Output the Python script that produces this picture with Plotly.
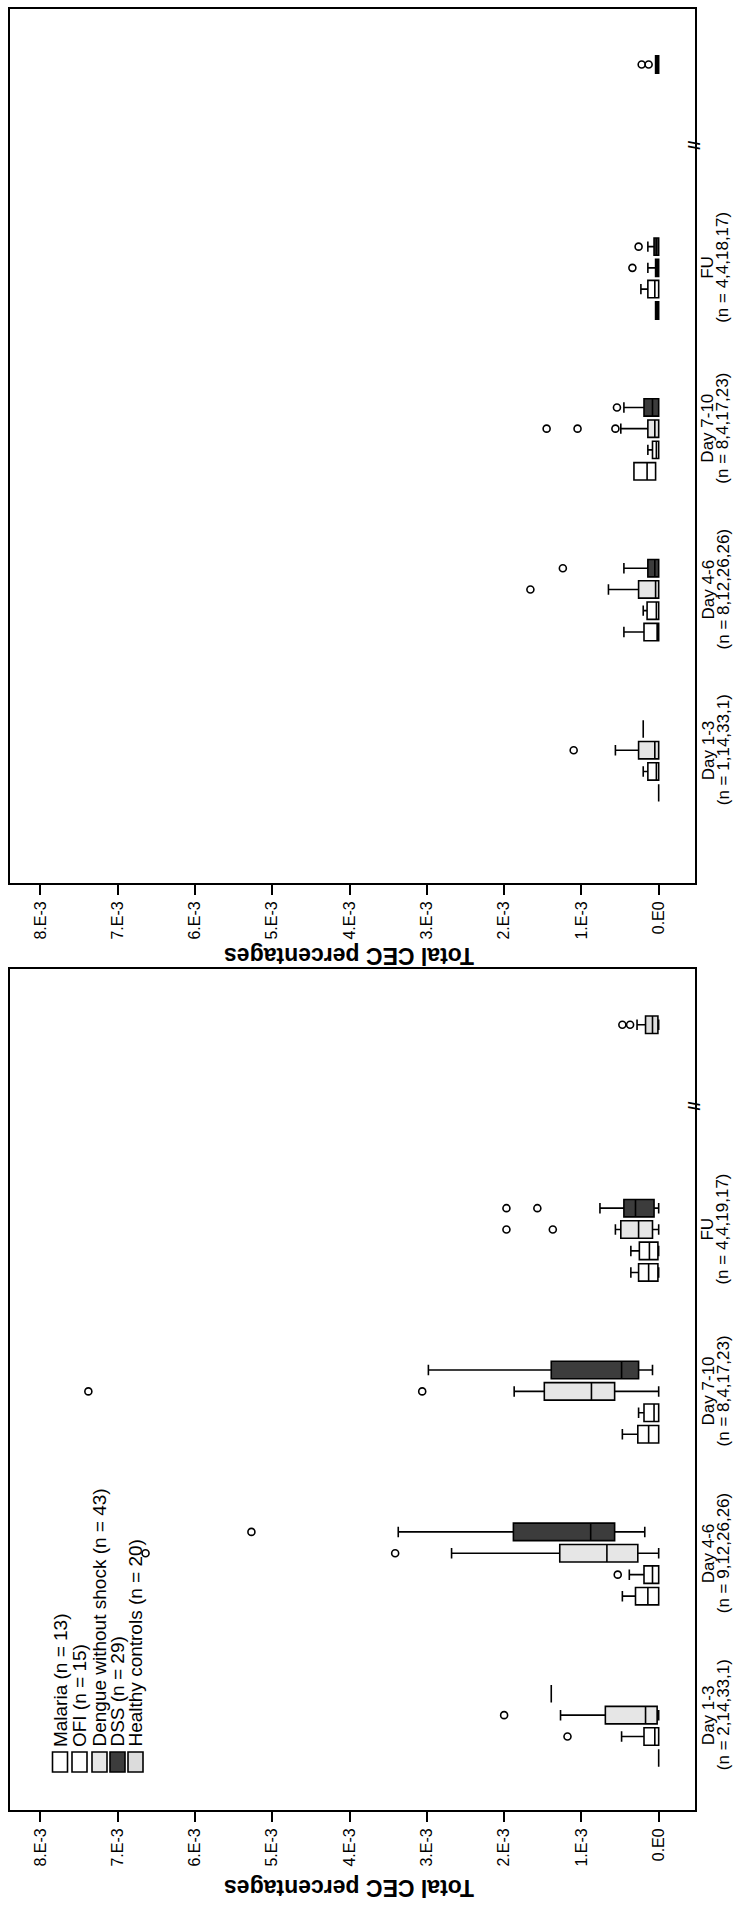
import plotly.graph_objects as go

# ---------------- data (values in units of 1E-3) ----------------
CATEGORIES = ["Day 1-3", "Day 4-6", "Day 7-10", "FU", "Healthy controls"]
SERIES = ["Malaria (n = 13)", "OFI (n = 15)", "Dengue without shock (n = 43)",
          "DSS (n = 29)", "Healthy controls (n = 20)"]
FILLS = ["#ffffff", "#ffffff", "#e6e6e6", "#3c3c3c", "#dcdcdc"]

VALUE_TICKS = [8, 7, 6, 5, 4, 3, 2, 1, 0]
VALUE_TICK_TEXT = ["8.E-3", "7.E-3", "6.E-3", "5.E-3", "4.E-3", "3.E-3", "2.E-3", "1.E-3", "0.E0"]
UNIT = 1e-3

TOP_N_LABELS = ["(n = 1,14,33,1)", "(n = 8,12,26,26)", "(n = 8,4,17,23)", "(n = 4,4,18,17)"]
BOTTOM_N_LABELS = ["(n = 2,14,33,1)", "(n = 9,12,26,26)", "(n = 8,4,17,23)", "(n = 4,4,19,17)"]

# rows: Malaria, OFI, Dengue w/o shock, DSS, Healthy controls ; cols: categories
TOP_Q1 = [[0.00, 0.00, 0.04, 0.00, None],
          [0.00, 0.00, 0.00, 0.00, None],
          [0.00, 0.00, 0.00, 0.00, None],
          [0.20, 0.00, 0.00, 0.00, None],
          [None, None, None, None, 0.00]]
TOP_MED = [[0.00, 0.02, 0.15, 0.02, None],
           [0.03, 0.03, 0.03, 0.05, None],
           [0.05, 0.04, 0.05, 0.02, None],
           [0.20, 0.05, 0.08, 0.03, None],
           [None, None, None, None, 0.02]]
TOP_Q3 = [[0.00, 0.19, 0.32, 0.04, None],
          [0.14, 0.15, 0.08, 0.14, None],
          [0.26, 0.26, 0.14, 0.04, None],
          [0.20, 0.14, 0.19, 0.06, None],
          [None, None, None, None, 0.04]]
TOP_LO = [[0.00, 0.00, 0.04, 0.00, None],
          [0.00, 0.00, 0.00, 0.00, None],
          [0.00, 0.00, 0.00, 0.00, None],
          [0.20, 0.00, 0.00, 0.00, None],
          [None, None, None, None, 0.00]]
TOP_HI = [[0.00, 0.45, 0.32, 0.04, None],
          [0.20, 0.20, 0.14, 0.23, None],
          [0.56, 0.65, 0.49, 0.14, None],
          [0.20, 0.45, 0.45, 0.14, None],
          [None, None, None, None, 0.04]]
# outliers: (series index, category index, value)
TOP_OUTLIERS = [(2, 0, 1.10), (2, 1, 1.66), (3, 1, 1.24),
                (2, 2, 0.56), (2, 2, 1.05), (2, 2, 1.45), (3, 2, 0.54),
                (2, 3, 0.34), (3, 3, 0.26), (4, 4, 0.13), (4, 4, 0.22)]

BOT_Q1 = [[0.00, 0.00, 0.00, 0.01, None],
          [0.00, 0.00, 0.00, 0.01, None],
          [0.02, 0.27, 0.57, 0.08, None],
          [1.39, 0.57, 0.26, 0.06, None],
          [None, None, None, None, 0.01]]
BOT_MED = [[0.00, 0.14, 0.13, 0.13, None],
           [0.05, 0.08, 0.06, 0.12, None],
           [0.17, 0.67, 0.87, 0.26, None],
           [1.39, 0.88, 0.48, 0.30, None],
           [None, None, None, None, 0.08]]
BOT_Q3 = [[0.00, 0.30, 0.27, 0.26, None],
          [0.19, 0.19, 0.19, 0.25, None],
          [0.69, 1.28, 1.48, 0.49, None],
          [1.39, 1.88, 1.39, 0.45, None],
          [None, None, None, None, 0.17]]
BOT_LO = [[0.00, 0.00, 0.00, 0.00, None],
          [0.00, 0.00, 0.00, 0.00, None],
          [0.00, 0.00, 0.00, 0.00, None],
          [1.39, 0.18, 0.08, 0.00, None],
          [None, None, None, None, 0.00]]
BOT_HI = [[0.00, 0.47, 0.47, 0.36, None],
          [0.48, 0.38, 0.26, 0.36, None],
          [1.27, 2.68, 1.87, 0.56, None],
          [1.39, 3.37, 2.98, 0.76, None],
          [None, None, None, None, 0.28]]
BOT_OUTLIERS = [(1, 0, 1.18), (2, 0, 2.00), (1, 1, 0.53), (2, 1, 3.41), (2, 1, 6.64),
                (3, 1, 5.27), (2, 2, 3.06), (2, 2, 7.38), (2, 3, 1.37), (2, 3, 1.97),
                (3, 3, 1.57), (3, 3, 1.97), (4, 4, 0.37), (4, 4, 0.47)]

# ---------------- style / layout constants ----------------
FONT = "Liberation Sans, Arial, sans-serif"
SLOT = [-0.265, -0.132, 0.0, 0.132, 0.265]
BOX_W = 0.108
W, H = 735, 1905
ML, MR, MT, MB = 10, 40, 7, 95
TOP_Y_RANGE = [-0.826, 4.61]
BOT_Y_RANGE = [-0.586, 4.61]
X_RANGE = [8.394 * UNIT, -0.47 * UNIT]


def px_x(X):
    return (X - ML) / (W - ML - MR)


def px_y(Y):
    return (H - MB - Y) / (H - MT - MB)


fig = go.Figure()


def add_panel(xa, ya, q1, med, q3, lo, hi, outliers):
    for s in range(len(SERIES)):
        ys, a, b, c, d, e = [], [], [], [], [], []
        for ci in range(len(CATEGORIES)):
            if q1[s][ci] is None:
                continue
            ys.append(ci + SLOT[s])
            a.append(q1[s][ci] * UNIT)
            b.append(med[s][ci] * UNIT)
            c.append(q3[s][ci] * UNIT)
            d.append(lo[s][ci] * UNIT)
            e.append(hi[s][ci] * UNIT)
        fig.add_trace(go.Box(
            orientation="h", y=ys, q1=a, median=b, q3=c, lowerfence=d, upperfence=e,
            width=BOX_W, fillcolor=FILLS[s], line=dict(color="black", width=1.6),
            whiskerwidth=0.6, boxpoints=False, showlegend=False, name=SERIES[s],
            xaxis=xa, yaxis=ya, hoverinfo="skip"))
    fig.add_trace(go.Scatter(
        x=[v * UNIT for (_, _, v) in outliers],
        y=[ci + SLOT[s] for (s, ci, _) in outliers],
        mode="markers", marker=dict(symbol="circle-open", size=7,
                                    line=dict(color="black", width=1.6), color="black"),
        showlegend=False, xaxis=xa, yaxis=ya, hoverinfo="skip"))


add_panel("x", "y", TOP_Q1, TOP_MED, TOP_Q3, TOP_LO, TOP_HI, TOP_OUTLIERS)
add_panel("x2", "y2", BOT_Q1, BOT_MED, BOT_Q3, BOT_LO, BOT_HI, BOT_OUTLIERS)

xaxis_common = dict(range=X_RANGE, tickvals=[v * UNIT for v in VALUE_TICKS],
                    ticktext=VALUE_TICK_TEXT, tickangle=-90, ticks="outside", ticklen=10,
                    tickwidth=1.6, tickcolor="black", showline=True, mirror=True,
                    linecolor="black", linewidth=1.8, showgrid=False, zeroline=False,
                    tickfont=dict(family=FONT, size=16, color="black"), domain=[0, 1])
yaxis_common = dict(showticklabels=False, showline=True, mirror=True,
                    linecolor="black", linewidth=1.8, showgrid=False, zeroline=False,
                    ticks="")

top_dom = [px_y(882), 1.0]
bot_dom = [0.0, px_y(968)]

fig.update_layout(
    width=W, height=H, margin=dict(l=ML, r=MR, t=MT, b=MB),
    paper_bgcolor="white", plot_bgcolor="white",
    xaxis=dict(anchor="y", **xaxis_common),
    yaxis=dict(anchor="x", domain=top_dom, range=TOP_Y_RANGE, **yaxis_common),
    xaxis2=dict(anchor="y2", **xaxis_common),
    yaxis2=dict(anchor="x2", domain=bot_dom, range=BOT_Y_RANGE, **yaxis_common),
)

annotations = []
shapes = []
for yref, labels in (("y", TOP_N_LABELS), ("y2", BOTTOM_N_LABELS)):
    for ci in range(4):
        annotations.append(dict(text=CATEGORIES[ci], xref="paper", x=1, xshift=13,
                                yref=yref, y=ci, xanchor="center", yanchor="middle",
                                textangle=-90, showarrow=False,
                                font=dict(family=FONT, size=17, color="black")))
        annotations.append(dict(text=labels[ci], xref="paper", x=1, xshift=28,
                                yref=yref, y=ci, xanchor="center", yanchor="middle",
                                textangle=-90, showarrow=False,
                                font=dict(family=FONT, size=17, color="black")))
    # axis break mark
    annotations.append(dict(text="<b>//</b>", xref="paper", x=1, yref=yref, y=3.76,
                            xanchor="center", yanchor="middle", textangle=-90,
                            showarrow=False, font=dict(family=FONT, size=16, color="black")))

for xref, ydom, shift in (("x", "y domain", -73), ("x2", "y2 domain", -78)):
    annotations.append(dict(text="<b>Total CEC percentages</b>", xref=xref, x=4 * UNIT,
                            yref=ydom, y=0, yshift=shift, xanchor="center", yanchor="middle",
                            textangle=180, showarrow=False,
                            font=dict(family=FONT, size=23, color="black")))

# legend (bottom panel), rotated like the rest of the chart
LEG_X = [60, 79.5, 99.5, 117.5, 135.5]
for s in range(len(SERIES)):
    cx = LEG_X[s]
    shapes.append(dict(type="rect", xref="paper", yref="paper",
                       x0=px_x(cx - 7.5), x1=px_x(cx + 7.5), y0=px_y(1772), y1=px_y(1752),
                       line=dict(color="black", width=1.6), fillcolor=FILLS[s]))
    annotations.append(dict(text=SERIES[s], xref="paper", x=px_x(cx), yref="paper",
                            y=px_y(1749), xanchor="center", yanchor="bottom",
                            textangle=-90, showarrow=False,
                            font=dict(family=FONT, size=19, color="black")))

fig.update_layout(annotations=annotations, shapes=shapes)
fig.write_html("out.html")
